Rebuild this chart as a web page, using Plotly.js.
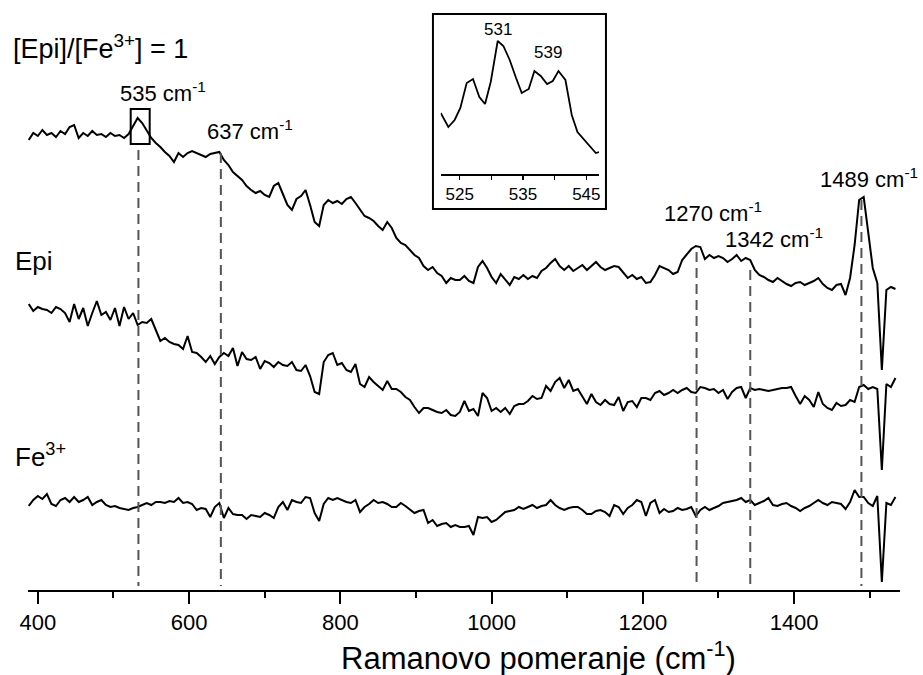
<!DOCTYPE html>
<html><head><meta charset="utf-8">
<script src="https://cdn.plot.ly/plotly-3.0.1.min.js"></script>
<style>html,body{margin:0;padding:0;background:#fff}#chart{width:923px;height:675px}</style>
</head><body><div id="chart"></div>
<script>
// Raman shift sampling (cm-1): first value and spacing of the spectra
const shiftStart = 388;
const shiftStep = 6;

// [Epi]/[Fe3+] = 1 mixture spectrum (stacked, arbitrary units)
const mixture = [
450,457,454,460,455,457,453,459,456,463,
465,452,457,454,459,455,456,453,457,454,
455,452,456,464,472,467,460,452,447,443,
438,434,428,437,433,437,439,437,435,433,
436,437,438,430,425,418,414,410,404,400,
397,399,395,393,404,407,396,385,380,391,
394,400,385,368,364,385,390,387,389,386,
391,393,387,380,374,372,369,364,360,368,
362,352,347,345,340,335,332,324,320,323,
317,314,307,312,310,310,314,309,307,323,
329,322,313,307,316,310,305,313,311,315,
311,314,312,319,322,327,331,324,320,324,
319,322,325,320,324,328,323,320,322,324,
323,318,312,315,311,313,307,308,315,324,
322,320,316,318,330,335,341,344,343,331,
335,332,334,332,328,331,335,329,332,330,
320,315,313,310,308,312,309,306,304,307,
308,305,307,309,312,306,302,300,305,306,
295,312,345,390,393,355,322,307,220,300,
303,301];

// Epi spectrum
const epi = [
286,279,283,281,280,277,283,281,277,268,
286,271,282,264,277,289,275,278,270,282,
264,283,271,277,265,268,267,271,260,249,
252,248,246,245,241,254,238,237,233,228,
234,226,233,237,234,242,224,238,231,230,
233,221,229,227,223,228,225,224,228,220,
219,225,214,198,196,228,235,237,225,227,
220,218,226,206,203,213,208,204,200,209,
201,201,198,193,190,183,177,182,182,180,
178,177,180,175,174,178,189,179,181,174,
197,192,179,182,178,182,176,184,186,186,
189,194,191,192,204,199,208,212,202,210,
199,201,193,186,196,188,185,190,186,185,
193,179,188,189,183,192,192,190,197,199,
195,197,200,197,200,202,198,197,203,202,
200,201,197,200,191,198,202,203,192,202,
200,201,200,199,200,201,202,202,203,194,
186,194,190,183,198,186,182,180,187,184,
185,190,188,203,205,201,203,201,120,206,
203,212];

// Fe3+ spectrum
const fe3 = [
84,90,94,91,96,86,84,90,92,88,
93,88,90,93,85,88,90,85,83,84,
82,81,80,82,83,85,87,85,88,88,
87,89,88,92,87,88,86,80,82,81,
73,83,87,72,82,76,75,75,71,75,
74,73,77,75,72,83,88,80,90,88,
87,93,92,77,69,86,92,90,92,90,
88,87,90,78,83,86,90,87,88,86,
83,83,87,84,80,77,79,80,67,70,
64,66,67,63,65,63,63,64,55,73,
72,73,68,70,74,78,79,80,83,81,
83,85,82,84,85,90,85,82,80,82,
83,83,80,76,76,79,80,78,74,85,
83,76,82,85,90,88,74,87,90,77,
81,78,79,82,80,81,83,74,80,83,
80,82,84,87,88,89,90,92,88,90,
85,87,89,92,85,84,86,87,84,82,
79,82,84,87,90,87,85,88,87,86,
81,88,100,93,93,87,84,94,8,87,
85,93];

// Inset: zoom of the 535 cm-1 band
const insetShift = [522.0,523.2,524.2,525.1,526.1,527.1,528.1,529.0,529.9,531.0,531.9,532.9,533.9,534.8,535.9,536.8,537.8,538.8,539.7,540.6,541.7,542.7,543.6,544.6,545.6,546.5,547.0];
const insetIntensity = [61,47,54,66,91,95,77,70,92,133,128,114,96,81,85,103,98,90,93,103,94,59,42,35,27,21,22];
const insetTicks = [525,535,545];
const insetMinor = [530,540];

// Marked bands
const peakPositions = [533, 642, 1271, 1342, 1489];
const peakLabels = ['535', '637', '1270', '1342', '1489'];
const peakLineTop = [440, 437, 338, 320, 390];

const xTicks = [400, 600, 800, 1000, 1200, 1400];
const xMinor = [500, 700, 900, 1100, 1300, 1500];

const shifts = mixture.map((_, i) => shiftStart + shiftStep * i);

const FONT = 'Arial, "Liberation Sans", sans-serif';
const lineStyle = {color: '#000', width: 2};

const traces = [
  {x: shifts, y: mixture, type: 'scatter', mode: 'lines', line: lineStyle, hoverinfo: 'skip'},
  {x: shifts, y: epi, type: 'scatter', mode: 'lines', line: lineStyle, hoverinfo: 'skip'},
  {x: shifts, y: fe3, type: 'scatter', mode: 'lines', line: lineStyle, hoverinfo: 'skip'},
  {x: insetShift, y: insetIntensity, type: 'scatter', mode: 'lines', line: {color: '#000', width: 1.8}, xaxis: 'x2', yaxis: 'y2', hoverinfo: 'skip'}
];

const shapes = peakPositions.map((p, i) => ({
  type: 'line', xref: 'x', yref: 'y', x0: p, x1: p, y0: peakLineTop[i], y1: 4,
  line: {color: '#555', width: 2, dash: '10px,6px'}
}));
shapes.push({type: 'rect', xref: 'x', yref: 'y', x0: 522.8, x1: 547.9, y0: 446, y1: 481,
  line: {color: '#000', width: 2}, fillcolor: 'rgba(0,0,0,0)'});
shapes.push({type: 'rect', xref: 'paper', yref: 'paper', x0: 0.4644, x1: 0.6628, y0: 0.6458, y1: 0.9763,
  line: {color: '#000', width: 2}, fillcolor: 'rgba(0,0,0,0)'});

const labelPos = [[505.4, 498], [620.5, 460], [1225, 378], [1305.7, 352], [1431.4, 412]];
const annotations = peakLabels.map((t, i) => ({
  text: t + ' cm<sup>-1</sup>', xref: 'x', yref: 'y', x: labelPos[i][0], y: labelPos[i][1],
  xanchor: 'left', yanchor: 'middle', showarrow: false, font: {family: FONT, size: 22, color: '#000'}
}));
annotations.push(
  {text: '[Epi]/[Fe<sup>3+</sup>] = 1', xref: 'paper', yref: 'paper', x: -0.019, y: 0.92, xanchor: 'left', yanchor: 'middle', showarrow: false, font: {family: FONT, size: 27, color: '#000'}},
  {text: 'Epi', xref: 'paper', yref: 'paper', x: -0.017, y: 0.558, xanchor: 'left', yanchor: 'middle', showarrow: false, font: {family: FONT, size: 26, color: '#000'}},
  {text: 'Fe<sup>3+</sup>', xref: 'paper', yref: 'paper', x: -0.017, y: 0.228, xanchor: 'left', yanchor: 'middle', showarrow: false, font: {family: FONT, size: 26, color: '#000'}},
  {text: '531', xref: 'x2', yref: 'y2', x: 531, y: 145, xanchor: 'center', yanchor: 'middle', showarrow: false, font: {family: FONT, size: 17, color: '#000'}},
  {text: '539', xref: 'x2', yref: 'y2', x: 539, y: 122, xanchor: 'center', yanchor: 'middle', showarrow: false, font: {family: FONT, size: 17, color: '#000'}},
  {text: 'Ramanovo pomeranje (cm<sup>-1</sup>)', xref: 'paper', yref: 'paper', x: 0.586, y: -0.112, xanchor: 'center', yanchor: 'middle', showarrow: false, font: {family: FONT, size: 31, color: '#000'}}
);

const layout = {
  width: 923, height: 675,
  margin: {l: 28, r: 23, t: 0, b: 85},
  paper_bgcolor: '#fff', plot_bgcolor: '#fff',
  showlegend: false,
  font: {family: FONT, color: '#000'},
  xaxis: {
    range: [387, 1540], showline: true, linecolor: '#000', linewidth: 2,
    ticks: 'outside', ticklen: 12, tickwidth: 2, tickcolor: '#000',
    tickvals: xTicks, ticktext: xTicks.map(String),
    tickfont: {family: FONT, size: 22, color: '#000'},
    minor: {tickvals: xMinor, ticks: 'outside', ticklen: 6, tickwidth: 2, tickcolor: '#000', showgrid: false},
    showgrid: false, zeroline: false, fixedrange: true
  },
  yaxis: {range: [0, 590], visible: false, fixedrange: true},
  xaxis2: {
    domain: [0.4733, 0.6548], anchor: 'y2', range: [522, 547],
    showline: true, linecolor: '#000', linewidth: 2,
    ticks: 'outside', ticklen: 4, tickwidth: 1.5, tickcolor: '#000',
    tickvals: insetTicks, ticktext: insetTicks.map(String),
    minor: {tickvals: insetMinor, ticks: 'outside', ticklen: 4, tickwidth: 1.5, tickcolor: '#000', showgrid: false},
    tickfont: {family: FONT, size: 17, color: '#000'},
    showgrid: false, zeroline: false, fixedrange: true
  },
  yaxis2: {domain: [0.7051, 0.9661], anchor: 'x2', range: [0, 154], visible: false, fixedrange: true},
  shapes: shapes,
  annotations: annotations
};

Plotly.newPlot('chart', traces, layout, {displayModeBar: false, staticPlot: true});
</script>
</body></html>
